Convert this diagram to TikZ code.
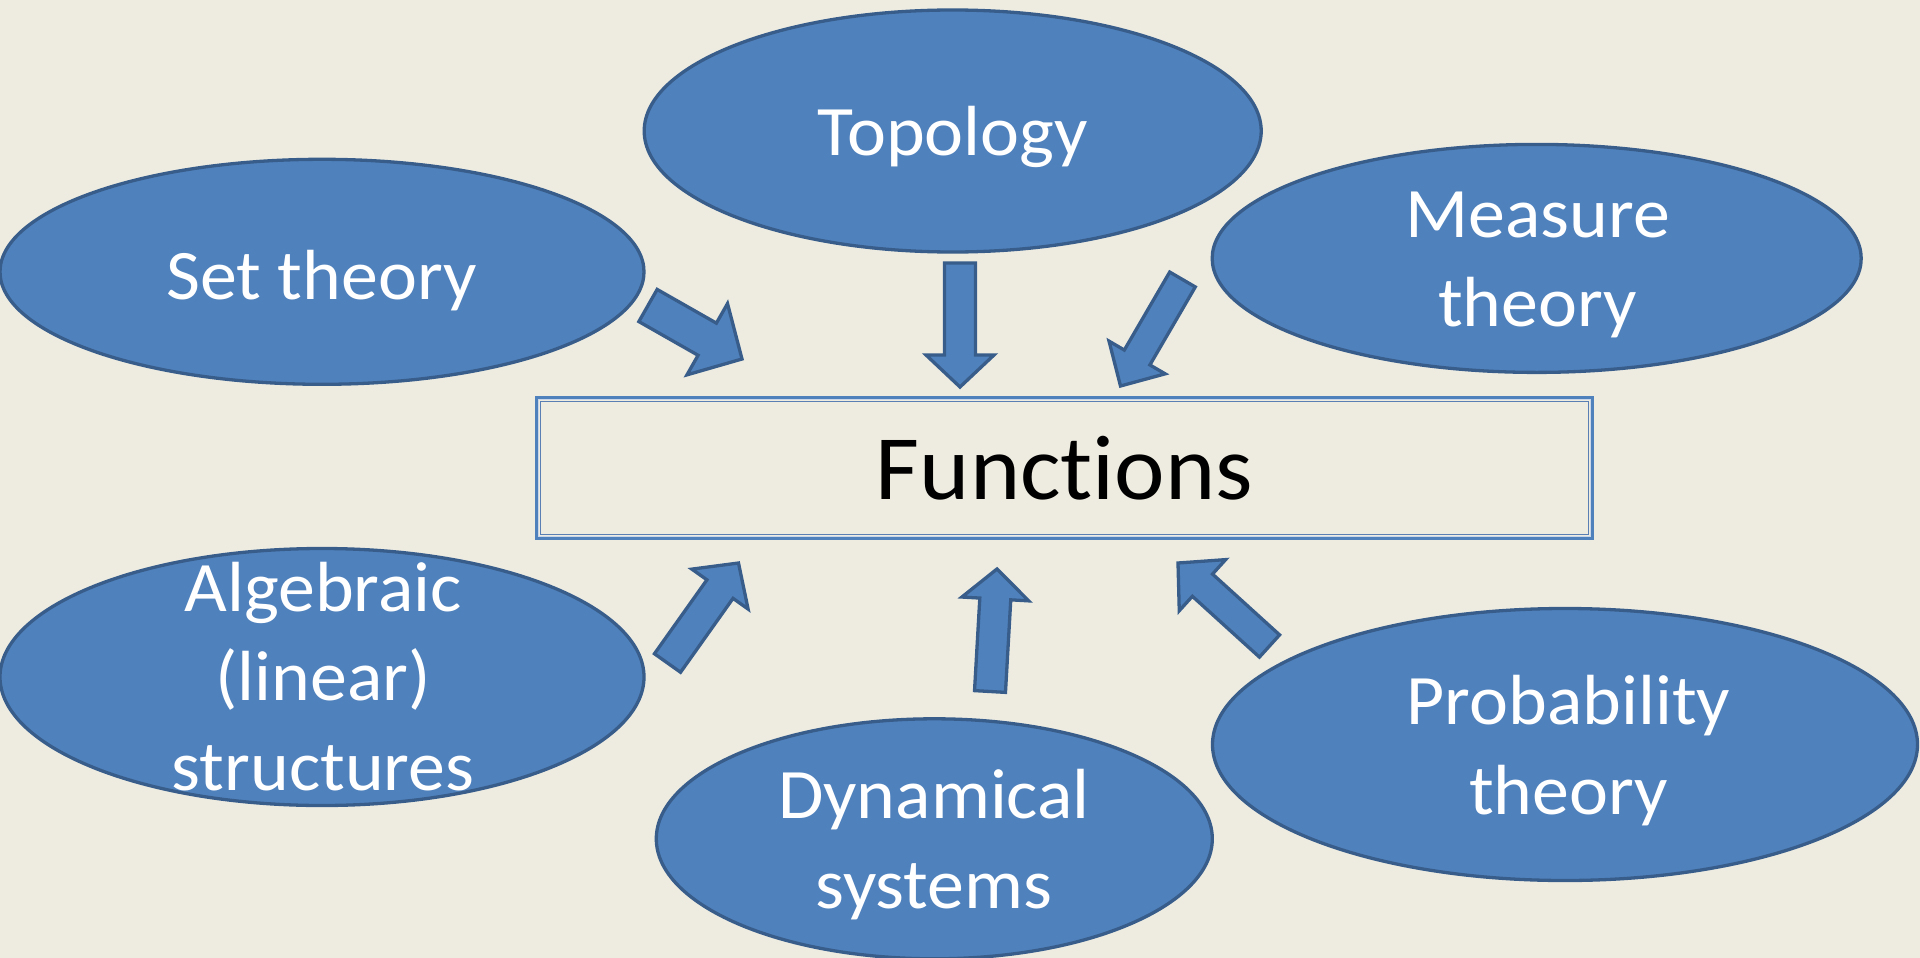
\documentclass[tikz,border=0pt]{standalone}
\usepackage{fontspec}
\setmainfont{Carlito}[Ligatures=NoCommon, FakeStretch=1.04]
\usetikzlibrary{shapes.geometric,calc}
\definecolor{bg}{HTML}{EEECE1}
\definecolor{fillblue}{HTML}{4F81BD}
\definecolor{edgeblue}{HTML}{385D8A}
\definecolor{innerblue}{HTML}{5A7FB5}
\definecolor{gapblue}{HTML}{C9D6EA}
\tikzset{
  ell/.style={ellipse, draw=edgeblue, fill=fillblue, line width=3.3pt, inner sep=0pt},
  lbl/.style={text=white, font=\fontsize{71}{89.5}\selectfont, align=center, anchor=base, inner sep=0pt},
  barrowstyle/.style={draw=edgeblue, fill=fillblue, line width=3.3pt, line join=miter},
  fnbox/.style={draw=fillblue, line width=3.5pt, inner sep=0pt, font=\fontsize{92}{110}\selectfont, text=black},
}
\newcommand{\blockarrow}[5]{%
  \coordinate (hd) at ($(#2)!#5pt!(#1)$);
  \draw[barrowstyle] ($(#1)!#3pt!90:(#2)$) -- ($(hd)!#3pt!90:(#2)$) -- ($(hd)!#4pt!90:(#2)$) -- (#2)
    -- ($(hd)!#4pt!-90:(#2)$) -- ($(hd)!#3pt!-90:(#2)$) -- ($(#1)!#3pt!-90:(#2)$) -- cycle;
}
\begin{document}
\begin{tikzpicture}[x=1pt,y=-1pt]
\useasboundingbox (0,0) rectangle (1920,958);
\fill[bg] (0,0) rectangle (1920,958);
\begin{scope}
\clip (0,0) rectangle (1920,958);
% ellipses
\node[ell, minimum width=617pt, minimum height=242pt] (topo) at (952.7,131) {};
\node[ell, minimum width=644pt, minimum height=225pt] (set) at (322,271.8) {};
\node[ell, minimum width=649pt, minimum height=228pt] (meas) at (1536.7,258.4) {};
\node[ell, minimum width=644pt, minimum height=257pt] (alg) at (322,677) {};
\node[ell, minimum width=556pt, minimum height=240pt] (dyn) at (934.3,838.8) {};
\node[ell, minimum width=705pt, minimum height=272pt] (prob) at (1565,744.5) {};
% labels (base anchor = baseline of the last line)
\node[lbl] (topoT) at (952.7,155) {Topology};
\node[lbl] (setT) at (321.5,299.5) {Set theory};
\node[lbl] (measT) at (1537.5,326.7) {Measure\\theory};
\node[lbl] (algT) at (323,790) {Algebraic\\(linear)\\structures};
\node[lbl] (dynT) at (934,908.3) {Dynamical\\systems};
\node[lbl] (probT) at (1568.6,814) {Probability\\theory};
% central box
\node[fnbox, minimum width=1055pt, minimum height=140pt] (fn) at (1064.5,468) {Functions};
\draw[gapblue, line width=1pt] ([shift={(3.2,3.2)}]fn.north west) rectangle ([shift={(-3.2,-3.2)}]fn.south east);
\draw[innerblue, line width=1.4pt] ([shift={(5,5)}]fn.north west) rectangle ([shift={(-5,-5)}]fn.south east);
% arrow anchor coordinates
\coordinate (a1t) at (648,305.5);   \coordinate (a1h) at (742,359);
\coordinate (a2t) at (960,263);     \coordinate (a2h) at (960,387);
\coordinate (a3t) at (1182.5,279.5);\coordinate (a3h) at (1120.5,386);
\coordinate (a4t) at (667.5,663);   \coordinate (a4h) at (738.5,563);
\coordinate (a5t) at (990,691.5);   \coordinate (a5h) at (997,569);
\coordinate (a6t) at (1269.5,646);  \coordinate (a6h) at (1178,563);
\blockarrow{a1t}{a1h}{18.5}{41}{40}
\blockarrow{a2t}{a2h}{15.5}{34}{32}
\blockarrow{a3t}{a3h}{14.8}{32.5}{33}
\blockarrow{a4t}{a4h}{16}{34.5}{32}
\blockarrow{a5t}{a5h}{15.5}{33.5}{30}
\blockarrow{a6t}{a6h}{15}{34.5}{33}
\end{scope}
\end{tikzpicture}
\end{document}
